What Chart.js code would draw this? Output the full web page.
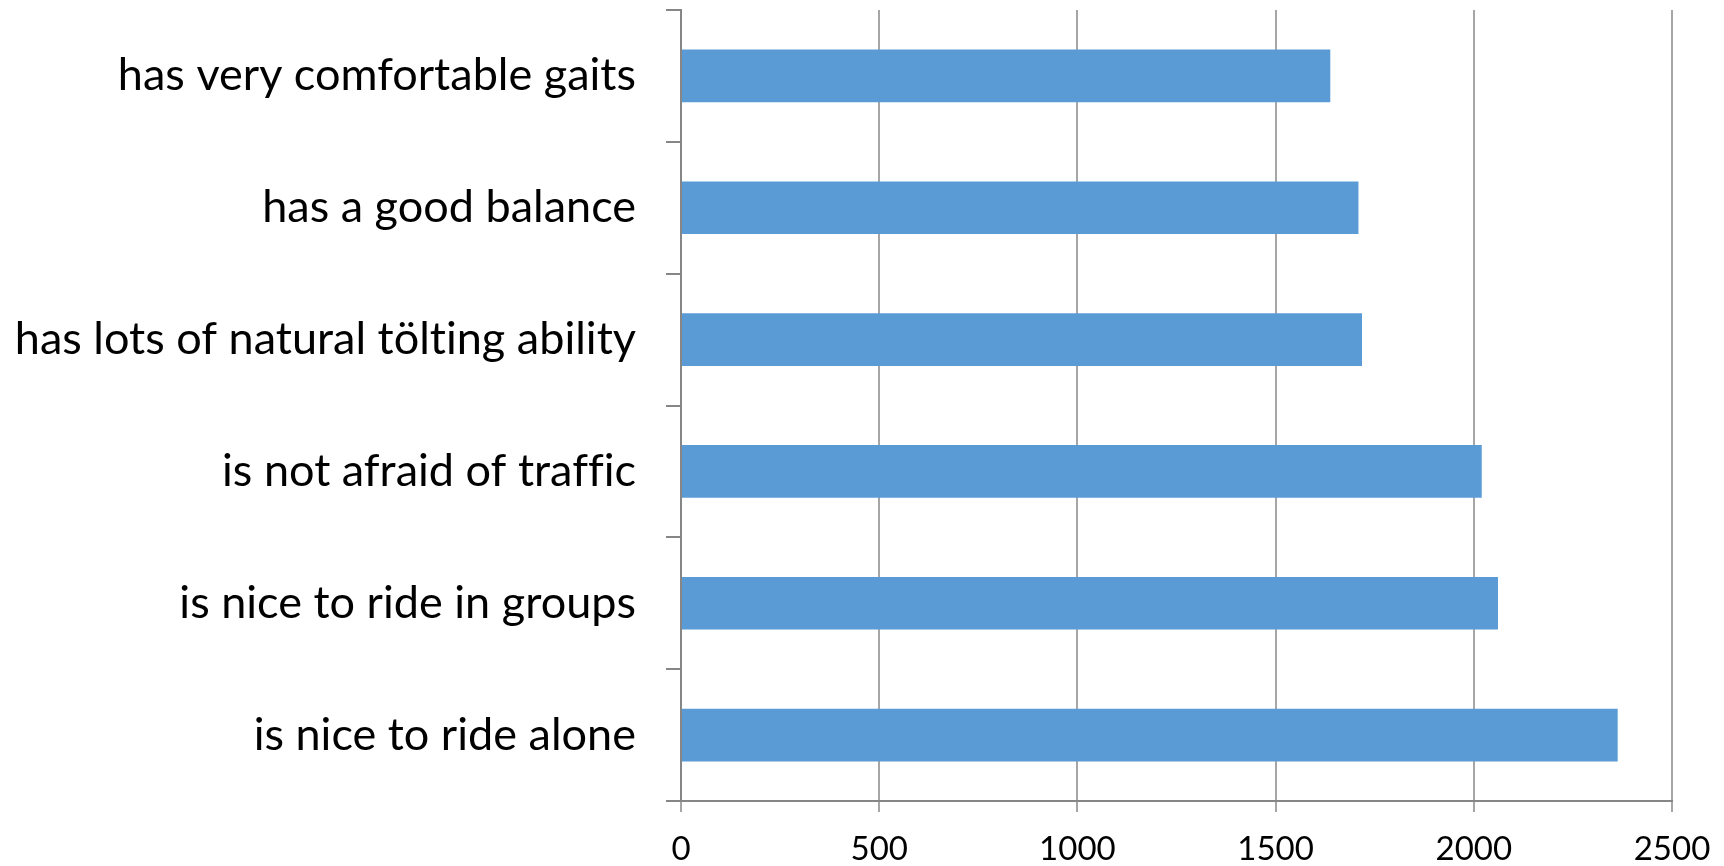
<!DOCTYPE html>
<html>
<head>
<meta charset="utf-8">
<script src="https://cdn.jsdelivr.net/npm/chart.js@4"></script>
<style>
  html, body { margin: 0; padding: 0; background: #fff; }
  #wrap { width: 1724px; height: 866px; }
</style>
</head>
<body>
<div id="wrap"><canvas id="horseChart" width="1724" height="866"></canvas></div>
<script>
// values
const categories = [
  "has very comfortable gaits",
  "has a good balance",
  "has lots of natural tölting ability",
  "is not afraid of traffic",
  "is nice to ride in groups",
  "is nice to ride alone"
];
const counts = [1638, 1709, 1718, 2020, 2061, 2363];
const xTicks = [0, 500, 1000, 1500, 2000, 2500];

// tiny letter spacing keeps the canvas from using ti / ffi ligatures
const noLigatures = {
  id: "noLigatures",
  beforeDraw: (chart) => {
    chart.ctx.letterSpacing = "0.01px";
  },
};

document.addEventListener("DOMContentLoaded", () => {
  const ctx = document.getElementById("horseChart");
  new Chart(ctx, {
    type: "bar",
    data: {
      labels: categories,
      datasets: [
        {
          data: counts,
          backgroundColor: "#5b9bd5",
          categoryPercentage: 1,
          barPercentage: 0.4,
        },
      ],
    },
    plugins: [noLigatures],
    options: {
      indexAxis: "y",
      responsive: false,
      animation: false,
      layout: { padding: { top: 10, right: 52, bottom: 0, left: 0 } },
      plugins: { legend: { display: false }, tooltip: { enabled: false } },
      scales: {
        x: {
          min: xTicks[0],
          max: xTicks[xTicks.length - 1],
          afterBuildTicks: (scale) => {
            scale.ticks = xTicks.map((v) => ({ value: v }));
          },
          afterFit: (scale) => {
            scale.height = 65;
            scale.paddingLeft = 0;
            scale.paddingRight = 0;
          },
          border: { color: "#868686", width: 2 },
          grid: { color: "#a6a6a6", lineWidth: 2, tickLength: 11 },
          ticks: {
            color: "#000",
            padding: 18,
            maxRotation: 0,
            font: { family: "Lato", size: 33 },
            callback: (value) => String(value),
          },
        },
        y: {
          afterFit: (scale) => {
            scale.width = 681;
            scale.paddingTop = 0;
            scale.paddingBottom = 0;
          },
          border: { color: "#868686", width: 2 },
          grid: { drawOnChartArea: false, color: "#868686", lineWidth: 2, tickLength: 15 },
          ticks: {
            color: "#000",
            padding: 30,
            font: { family: "Lato", size: 45 },
          },
        },
      },
    },
  });
});
</script>
</body>
</html>
